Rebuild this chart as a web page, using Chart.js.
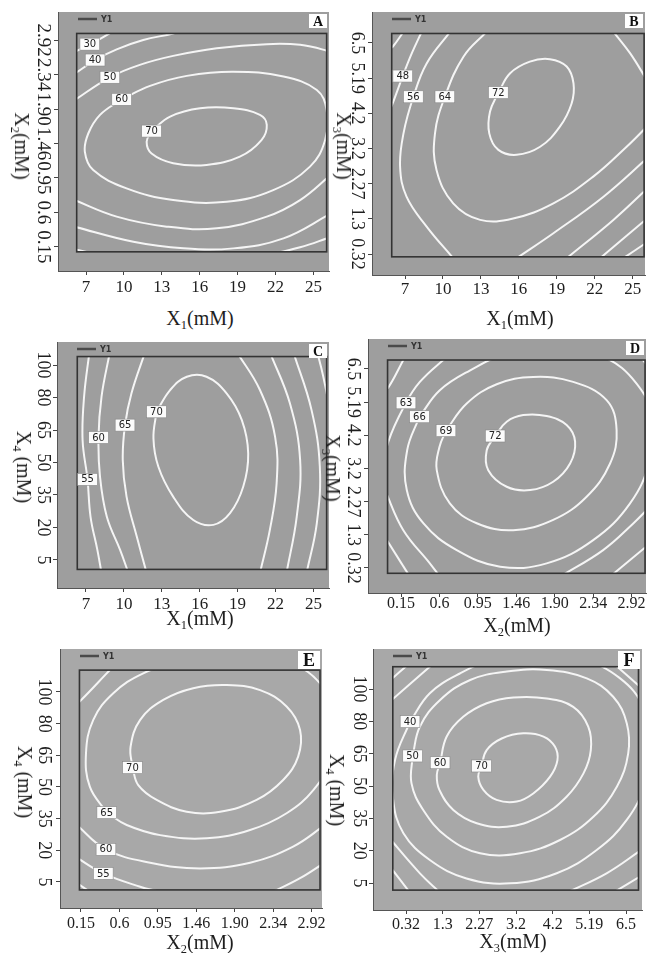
<!DOCTYPE html>
<html>
<head>
<meta charset="utf-8">
<script src="https://cdn.jsdelivr.net/npm/chart.js@4.4.0/dist/chart.umd.min.js"></script>
<style>
  body { margin: 0; width: 651px; height: 953px; background: #fff; position: relative; overflow: hidden; font-family: "Liberation Serif", serif; }
  canvas { position: absolute; }
  .ttl { position: absolute; font-size: 20px; color: #1e1e1e; white-space: nowrap; transform: translate(-50%, -50%); line-height: 1; }
  .ttl.v { transform: translate(-50%, -50%) rotate(90deg); }
  .ttl sub { font-size: 0.62em; vertical-align: -0.3em; line-height: 0; }
</style>
</head>
<body>
<script>
// tick labels, positions 0..6 on every axis
const x1Ticks = ['7', '10', '13', '16', '19', '22', '25'];
const x2Ticks = ['0.15', '0.6', '0.95', '1.46', '1.90', '2.34', '2.92'];
const x3Ticks = ['0.32', '1.3', '2.27', '3.2', '4.2', '5.19', '6.5'];
const x4Ticks = ['5', '20', '35', '50', '65', '80', '100'];

// contour lines, [x, y] in tick-index units
const contoursA = [
  [[-0.35,5.62],[0.10,5.88],[0.35,6.02],[0.63,6.20],[0.75,6.3]],
  [[-0.35,4.98],[0.24,5.42],[0.81,5.73],[1.51,6.0],[2.30,6.19],[2.6,6.3]],
  [[-0.35,4.22],[0.63,4.92],[1.42,5.28],[2.30,5.54],[3.45,5.76],[4.77,5.88],[5.65,5.86],[6.35,5.69],[6.5,5.6]],
  [[0.94,4.28],[1.69,4.67],[2.66,4.96],[3.89,5.08],[5.21,4.94],[6.09,4.55],[6.35,3.97],[6.31,3.10],[5.91,2.33],[4.94,1.65],[3.71,1.31],[2.30,1.36],[1.07,1.70],[0.19,2.23],[-0.03,2.76],[0.06,3.29],[0.37,3.83],[0.94,4.28]],
  [[1.73,3.36],[2.22,3.78],[3.01,4.02],[3.89,4.02],[4.59,3.83],[4.77,3.54],[4.63,3.10],[4.06,2.62],[3.18,2.38],[2.30,2.43],[1.73,2.71],[1.60,3.05],[1.73,3.36]],
  [[-0.35,1.38],[0.81,0.88],[2.13,0.59],[3.45,0.54],[4.77,0.88],[5.65,1.36],[6.45,2.08]],
  [[-0.35,0.60],[1.25,0.15],[2.57,-0.04],[3.89,-0.04],[5.21,0.25],[6.45,0.96]],
  [[-0.35,-0.05],[0.55,-0.28]],
  [[4.59,-0.28],[5.65,-0.01],[6.44,0.28]]
];
const labelsA = [[0.10,5.88,'30'],[0.24,5.42,'40'],[0.63,4.92,'50'],[0.94,4.28,'60'],[1.73,3.36,'70']];

const contoursB = [
  [[-0.45,5.80],[-0.32,5.90],[-0.04,6.32]],
  [[-0.45,4.0],[-0.36,4.19],[-0.06,5.06],[0.18,5.71],[0.44,6.32]],
  [[1.19,6.32],[0.57,5.42],[0.22,4.47],[-0.04,3.43],[-0.13,2.48],[0.04,1.63],[0.57,0.78],[1.27,-0.12]],
  [[2.15,6.32],[1.54,5.61],[1.05,4.47],[0.79,3.43],[0.83,2.39],[1.27,1.44],[1.98,0.97],[2.85,1.01],[3.91,1.44],[4.96,2.20],[5.84,3.05],[6.40,3.65]],
  [[5.49,6.32],[5.93,5.71],[6.40,4.90]],
  [[2.46,4.59],[2.77,5.14],[3.29,5.47],[3.82,5.54],[4.26,5.33],[4.44,4.85],[4.39,4.28],[4.08,3.62],[3.56,3.05],[2.94,2.82],[2.46,2.96],[2.22,3.43],[2.24,4.05],[2.46,4.59]],
  [[6.4,2.74],[5.23,1.63],[3.91,0.59],[2.94,-0.12]],
  [[6.4,1.88],[5.49,0.97],[4.26,-0.12]],
  [[6.4,1.03],[5.14,-0.12]],
  [[6.4,0.35],[5.75,-0.12]]
];
const labelsB = [[-0.06,5.06,'48'],[0.22,4.47,'56'],[1.05,4.47,'64'],[2.46,4.59,'72']];

const contoursC = [
  [[0.09,6.4],[-0.05,5.03],[-0.09,3.69],[0.04,2.48],[0.12,1.33],[0.30,0.31],[0.41,-0.4]],
  [[0.63,6.4],[0.41,5.03],[0.33,3.77],[0.37,2.56],[0.55,1.33],[0.90,0.31],[1.12,-0.4]],
  [[1.56,6.4],[1.20,5.13],[1.03,4.15],[0.97,3.08],[1.07,1.95],[1.34,0.72],[1.60,-0.4]],
  [[1.86,4.56],[2.22,5.23],[2.66,5.64],[3.18,5.64],[3.71,5.13],[4.11,4.31],[4.28,3.28],[4.15,2.26],[3.80,1.44],[3.36,1.08],[2.83,1.23],[2.30,1.95],[1.91,2.87],[1.78,3.74],[1.86,4.56]],
  [[3.98,6.4],[4.59,5.23],[4.99,3.79],[5.03,2.36],[4.85,0.92],[4.59,-0.4]],
  [[4.85,6.4],[5.38,4.82],[5.65,3.08],[5.56,1.33],[5.29,-0.4]],
  [[5.47,6.4],[5.95,4.62],[6.17,2.87],[6.09,1.13],[5.82,-0.4]],
  [[6.10,6.4],[6.25,5.7],[6.44,4.62]]
];
const labelsC = [[0.04,2.48,'55'],[0.33,3.77,'60'],[1.03,4.15,'65'],[1.86,4.56,'70']];

const contoursD = [
  [[-0.45,5.35],[-0.33,5.44],[0.06,6.27],[0.16,6.49]],
  [[-0.46,2.95],[-0.33,3.81],[0.13,4.98],[0.49,5.61],[1.10,6.27],[1.54,6.67]],
  [[0.48,4.56],[1.01,5.36],[1.80,5.96],[2.75,6.47],[3.96,6.67],[5.26,6.37],[6.13,5.56],[6.57,4.46],[6.48,3.25],[5.96,1.95],[5.00,0.84],[3.79,0.14],[2.58,0.04],[1.45,0.54],[0.58,1.35],[0.15,2.35],[0.16,3.55],[0.48,4.56]],
  [[1.17,4.14],[1.71,4.96],[2.49,5.54],[3.44,5.76],[4.48,5.61],[5.35,5.06],[5.61,4.16],[5.44,3.15],[4.83,2.15],[3.96,1.45],[2.92,1.14],[1.97,1.35],[1.27,1.95],[0.93,2.95],[1.00,3.65],[1.17,4.14]],
  [[2.45,3.98],[2.75,4.41],[3.18,4.61],[3.79,4.58],[4.31,4.31],[4.53,3.81],[4.40,3.15],[3.96,2.60],[3.36,2.35],[2.75,2.45],[2.27,2.95],[2.23,3.55],[2.45,3.98]],
  [[-0.42,2.35],[0.06,1.14],[0.75,0.14],[1.01,-0.26]],
  [[4.14,-0.26],[5.26,0.54],[6.05,1.35],[6.48,1.85]],
  [[-0.37,0.84],[0.23,-0.26]],
  [[5.44,-0.26],[6.48,0.74]],
  [[6.22,6.37],[6.48,6.01]]
];
const labelsD = [[0.13,4.98,'63'],[0.48,4.56,'66'],[1.17,4.14,'69'],[2.45,3.98,'72']];

const contoursE = [
  [[-0.15,5.60],[-0.04,5.69],[0.75,6.69],[0.88,6.85]],
  [[0.67,2.19],[0.23,3.01],[0.13,4.06],[0.32,5.12],[0.84,5.96],[1.62,6.59],[2.66,7.01],[3.96,7.22],[5.26,7.01],[6.22,6.27],[6.57,5.12],[6.48,3.85],[6.05,2.91],[5.35,2.17],[4.40,1.64],[3.27,1.38],[2.06,1.48],[1.19,1.80],[0.67,2.19]],
  [[1.34,3.61],[1.29,4.27],[1.54,5.12],[2.14,5.75],[2.92,6.12],[3.79,6.22],[4.66,6.06],[5.35,5.54],[5.70,4.80],[5.65,3.96],[5.26,3.22],[4.57,2.59],[3.62,2.22],[2.75,2.22],[1.97,2.59],[1.49,3.06],[1.34,3.61]],
  [[-0.15,1.85],[0.65,1.03],[1.80,0.61],[3.10,0.43],[4.40,0.61],[5.52,1.12],[6.35,1.80]],
  [[-0.15,0.80],[0.58,0.27],[1.54,-0.15],[2.06,-0.31]],
  [[5.00,-0.31],[5.70,0.12],[6.35,0.62]],
  [[-0.15,0.0],[0.23,-0.31]]
];
const labelsE = [[1.34,3.61,'70'],[0.67,2.19,'65'],[0.65,1.03,'60'],[0.58,0.27,'55']];

const contoursF = [
  [[2.06,3.62],[2.20,4.11],[2.61,4.47],[3.20,4.63],[3.75,4.53],[4.06,4.22],[4.13,3.80],[3.93,3.29],[3.47,2.77],[3.02,2.52],[2.47,2.57],[2.11,2.88],[1.97,3.29],[2.06,3.62]],
  [[0.93,3.72],[1.11,4.53],[1.56,5.14],[2.20,5.56],[2.93,5.74],[3.84,5.71],[4.56,5.45],[4.97,4.84],[5.04,4.11],[4.84,3.39],[4.38,2.67],[3.65,2.05],[2.75,1.74],[1.93,1.85],[1.29,2.26],[0.91,2.88],[0.84,3.34],[0.93,3.72]],
  [[0.18,3.93],[0.38,4.84],[0.93,5.66],[1.75,6.28],[2.75,6.54],[3.84,6.59],[4.93,6.33],[5.65,5.76],[6.02,4.94],[6.06,4.01],[5.75,2.98],[5.11,2.05],[4.20,1.33],[3.11,0.92],[2.02,0.92],[1.11,1.43],[0.47,2.26],[0.15,3.08],[0.18,3.93]],
  [[0.11,4.99],[0.65,5.87],[1.47,6.48],[2.38,6.90],[3.56,7.05],[4.84,6.90],[5.84,6.33],[6.47,5.45],[6.65,4.32],[6.52,3.08],[6.02,1.95],[5.20,1.02],[4.11,0.30],[2.84,-0.01],[1.65,0.14],[0.65,0.71],[-0.07,1.54],[-0.35,2.57],[-0.30,3.80],[0.11,4.99]],
  [[-0.5,5.55],[-0.39,5.66],[0.70,6.74],[0.8,6.85]],
  [[-0.5,6.2],[0.1,6.8]],
  [[-0.5,1.45],[0.38,0.30],[0.93,-0.3]],
  [[-0.5,0.6],[0.11,-0.3]],
  [[4.38,-0.3],[5.47,0.30],[6.45,1.05]],
  [[5.65,-0.3],[6.45,0.25]],
  [[5.65,6.8],[6.45,6.0]]
];
const labelsF = [[0.11,4.99,'40'],[0.18,3.93,'50'],[0.93,3.72,'60'],[2.06,3.62,'70']];

// layout of the six panels (gray box in page px, scale ranges, inner frame)
const panels = [
  { id: 'A', box: [58, 12, 271, 259], xr: [-0.739, 6.412], yr: [-0.696, 6.812], inner: [-0.246, 6.35, -0.14, 6.19],
    xt: x1Ticks, yt: x2Ticks, lines: contoursA, marks: labelsA, fill: '#9e9e9e', xFont: 17, yFont: 19, xPad: 2, yPad: -6,
    xTitle: ['X<sub>1</sub>(mM)', 200, 318], yTitle: ['X<sub>2</sub>(mM)', 22, 146], letter: 14 },
  { id: 'B', box: [372, 12, 273, 263], xr: [-0.870, 6.324], yr: [-0.597, 6.881], inner: [-0.35, 6.30, -0.08, 6.27],
    xt: x1Ticks, yt: x3Ticks, lines: contoursB, marks: labelsB, fill: '#9e9e9e', xFont: 17, yFont: 18, xPad: 0, yPad: -4,
    xTitle: ['X<sub>1</sub>(mM)', 520, 318], yTitle: ['X<sub>3</sub>(mM)', 344, 146], letter: 14 },
  { id: 'C', box: [57, 342, 272, 246], xr: [-0.765, 6.412], yr: [-0.862, 6.708], inner: [-0.23, 6.35, -0.29, 6.26],
    xt: x1Ticks, yt: x4Ticks, lines: contoursC, marks: labelsC, fill: '#9e9e9e', xFont: 17, yFont: 18, xPad: 2, yPad: -3.5,
    xTitle: ['X<sub>1</sub>(mM)', 200, 618], yTitle: ['X<sub>4</sub> (mM)', 24, 467], letter: 14 },
  { id: 'D', box: [368, 339, 278, 254], xr: [-0.859, 6.375], yr: [-0.754, 6.904], inner: [-0.35, 6.35, -0.16, 6.27],
    xt: x2Ticks, yt: x3Ticks, lines: contoursD, marks: labelsD, fill: '#9e9e9e', xFont: 16, yFont: 18, xPad: -3, yPad: -4.5,
    xTitle: ['X<sub>2</sub>(mM)', 517, 625], yTitle: ['X<sub>3</sub>(mM)', 333, 468], letter: 14 },
  { id: 'E', box: [60, 649, 262, 259], xr: [-0.546, 6.271], yr: [-0.821, 7.357], inner: [-0.04, 6.22, -0.25, 6.69],
    xt: x2Ticks, yt: x4Ticks, lines: contoursE, marks: labelsE, fill: '#a8a8a8', xFont: 16, yFont: 18, xPad: 2, yPad: -1.5,
    xTitle: ['X<sub>2</sub>(mM)', 200, 942], yTitle: ['X<sub>4</sub> (mM)', 25, 782], letter: 18 },
  { id: 'F', box: [373, 649, 269, 261], xr: [-0.900, 6.436], yr: [-0.835, 7.238], inner: [-0.36, 6.34, -0.22, 6.69],
    xt: x3Ticks, yt: x4Ticks, lines: contoursF, marks: labelsF, fill: '#a8a8a8', xFont: 16, yFont: 18, xPad: 1, yPad: -3.5,
    xTitle: ['X<sub>3</sub>(mM)', 513, 941], yTitle: ['X<sub>4</sub> (mM)', 337, 790], letter: 18 }
];

function makeDecor(p) {
  return {
    id: 'decor' + p.id,
    beforeDraw(chart) {
      const { ctx, chartArea: a } = chart;
      ctx.save();
      ctx.fillStyle = p.fill;
      ctx.fillRect(a.left, a.top, a.right - a.left, a.bottom - a.top);
      ctx.restore();
    },
    beforeDatasetsDraw(chart) {
      const { ctx, scales: { x, y } } = chart;
      const l = x.getPixelForValue(p.inner[0]), r = x.getPixelForValue(p.inner[1]);
      const b = y.getPixelForValue(p.inner[2]), t = y.getPixelForValue(p.inner[3]);
      ctx.save();
      ctx.beginPath();
      ctx.rect(l, t, r - l, b - t);
      ctx.clip();
    },
    afterDatasetsDraw(chart) {
      const { ctx, chartArea: a, scales: { x, y } } = chart;
      ctx.restore();
      const l = x.getPixelForValue(p.inner[0]), r = x.getPixelForValue(p.inner[1]);
      const b = y.getPixelForValue(p.inner[2]), t = y.getPixelForValue(p.inner[3]);
      ctx.save();
      // inner frame
      ctx.strokeStyle = '#333';
      ctx.lineWidth = 1.6;
      ctx.strokeRect(l, t, r - l, b - t);

      // contour level labels
      ctx.font = '10px "DejaVu Sans"';
      ctx.textAlign = 'center';
      ctx.textBaseline = 'middle';
      p.marks.forEach(([vx, vy, txt]) => {
        const px = x.getPixelForValue(vx), py = y.getPixelForValue(vy);
        const w = ctx.measureText(txt).width + 7, h = 12;
        ctx.fillStyle = '#fbfbfb';
        ctx.fillRect(px - w / 2, py - h / 2, w, h);
        ctx.strokeStyle = '#888';
        ctx.lineWidth = 0.6;
        ctx.strokeRect(px - w / 2, py - h / 2, w, h);
        ctx.fillStyle = '#222';
        ctx.fillText(txt, px, py + 0.5);
      });

      // legend "Y1"
      ctx.strokeStyle = '#4a4a4a';
      ctx.lineWidth = 2.5;
      ctx.beginPath();
      ctx.moveTo(a.left + 20, a.top + 7);
      ctx.lineTo(a.left + 39, a.top + 7);
      ctx.stroke();
      ctx.fillStyle = '#333';
      ctx.font = 'bold 8px "DejaVu Sans"';
      ctx.textAlign = 'left';
      ctx.fillText('Y1', a.left + 43, a.top + 7.5);

      // panel letter
      const s = p.letter;
      const bw = s + 4, bh = s;
      const bx = a.right - bw - 2, by = a.top + 2;
      ctx.fillStyle = '#fff';
      ctx.fillRect(bx, by, bw, bh);
      ctx.fillStyle = '#111';
      ctx.font = 'bold ' + s + 'px "Liberation Serif"';
      ctx.textAlign = 'center';
      ctx.fillText(p.id, bx + bw / 2, by + bh / 2 + 1);
      ctx.restore();
    }
  };
}

function addTitle(html, cx, cy, vertical) {
  const d = document.createElement('div');
  d.className = 'ttl' + (vertical ? ' v' : '');
  d.innerHTML = html;
  d.style.left = cx + 'px';
  d.style.top = cy + 'px';
  document.body.appendChild(d);
}

panels.forEach(p => {
  const [L, T, W, H] = p.box;
  const cv = document.createElement('canvas');
  cv.width = W + 62;
  cv.height = H + 38;
  cv.style.left = (L - 56) + 'px';
  cv.style.top = (T - 4) + 'px';
  document.body.appendChild(cv);

  const indexTicks = arr => s => { s.ticks = arr.map((_, i) => ({ value: i })); };
  const gridOpts = { display: true, drawOnChartArea: false, drawTicks: true, tickLength: 4, color: '#444' };

  new Chart(cv, {
    type: 'scatter',
    data: {
      datasets: p.lines.map(pts => ({
        data: pts.map(([vx, vy]) => ({ x: vx, y: vy })),
        showLine: true,
        borderColor: '#f5f5f5',
        borderWidth: 2,
        pointRadius: 0,
        tension: 0.4,
        fill: false
      }))
    },
    options: {
      responsive: false,
      animation: false,
      devicePixelRatio: 1,
      layout: { padding: { left: 0, top: 4, right: 6, bottom: 0 } },
      plugins: { legend: { display: false }, tooltip: { enabled: false } },
      scales: {
        x: {
          type: 'linear', min: p.xr[0], max: p.xr[1],
          afterBuildTicks: indexTicks(p.xt),
          afterFit: s => { s.height = 34; s.paddingLeft = 0; s.paddingRight = 0; },
          ticks: { callback: v => p.xt[v], autoSkip: false, maxRotation: 0, minRotation: 0, padding: p.xPad,
                   color: '#1e1e1e', font: { family: 'Liberation Serif', size: p.xFont } },
          grid: gridOpts,
          border: { display: true, color: '#555', width: 1 }
        },
        y: {
          type: 'linear', min: p.yr[0], max: p.yr[1],
          afterBuildTicks: indexTicks(p.yt),
          afterFit: s => { s.width = 56; s.paddingTop = 0; s.paddingBottom = 0; },
          ticks: { callback: v => p.yt[v], autoSkip: false, minRotation: -90, maxRotation: -90, crossAlign: 'center',
                   padding: p.yPad, color: '#1e1e1e', font: { family: 'Liberation Serif', size: p.yFont } },
          grid: gridOpts,
          border: { display: true, color: '#555', width: 1 }
        }
      }
    },
    plugins: [makeDecor(p)]
  });

  addTitle(p.xTitle[0], p.xTitle[1], p.xTitle[2], false);
  addTitle(p.yTitle[0], p.yTitle[1], p.yTitle[2], true);
});
</script>
</body>
</html>
